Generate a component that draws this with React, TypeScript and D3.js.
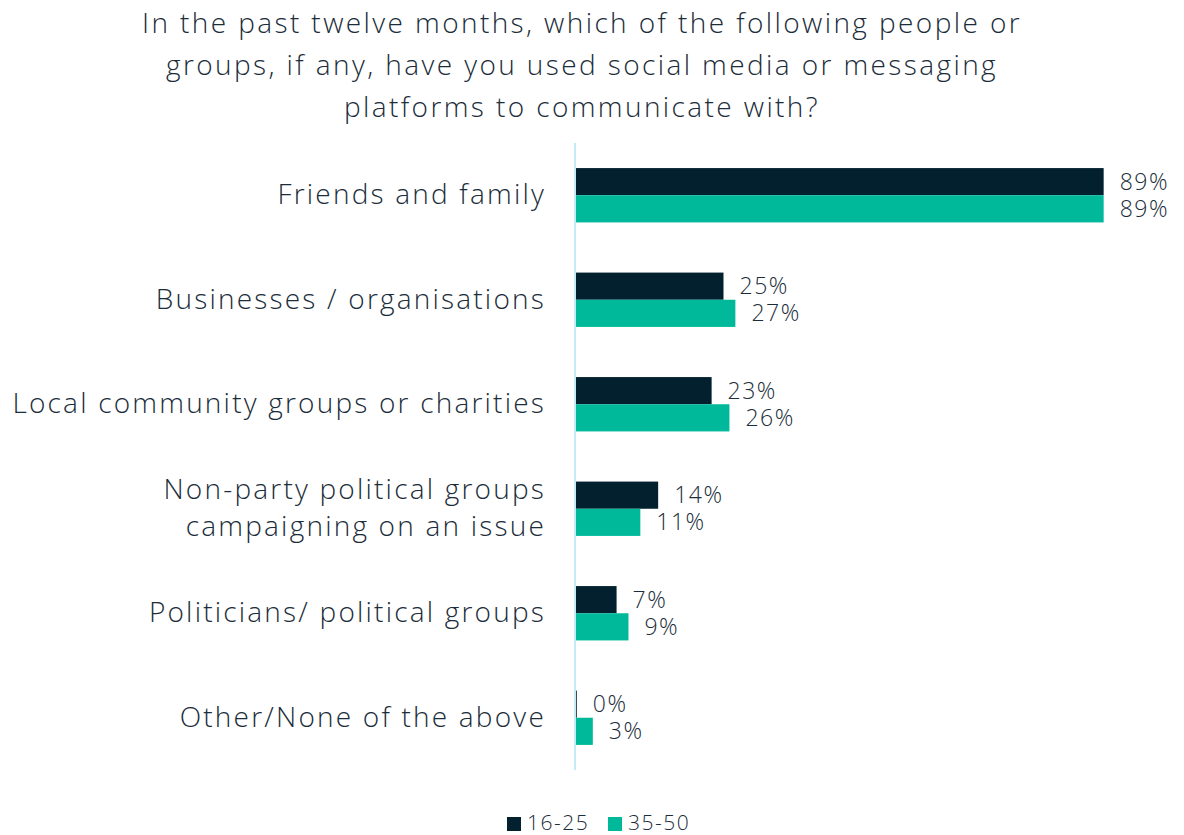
import React from 'react';
import * as d3 from 'd3';

const categories = [
  ['Friends and family'],
  ['Businesses / organisations'],
  ['Local community groups or charities'],
  ['Non-party political groups', 'campaigning on an issue'],
  ['Politicians/ political groups'],
  ['Other/None of the above'],
];
const seriesNames = ['16-25', '35-50'];
const young = [89, 25, 23, 14, 7, 0.3];
const older = [89, 27, 26, 11, 9, 3];
const titleLines = [
  'In the past twelve months, which of the following people or',
  'groups, if any, have you used social media or messaging',
  'platforms to communicate with?',
];

const COLORS = ['#03202e', '#00b99a'];
const TEXT = '#1b2d3a';
const FONT = '"Open Sans", sans-serif';

export default function App() {
  const width = 1184;
  const height = 835;
  const x0 = 575;
  const top = 143;
  const bottom = 770;

  const x = d3.scaleLinear().domain([0, 100]).range([x0, x0 + 594]);
  const y = d3.scaleBand<number>()
    .domain(d3.range(categories.length))
    .range([top, bottom])
    .paddingInner(0.48)
    .paddingOuter(0.24);
  const sub = d3.scaleBand<number>().domain([0, 1]).range([0, y.bandwidth()]);

  const series = [young, older];

  return (
    <svg width={width} height={height} style={{ position: 'absolute', left: 0, top: 0 }}
      fontFamily={FONT} fontWeight={300}>
      <rect width={width} height={height} fill="#fff" />
      {titleLines.map((t, i) => (
        <text key={i} x={582} y={33 + i * 42} textAnchor="middle" fontSize={28} fill={TEXT}
          letterSpacing={2.4}>{t}</text>
      ))}

      {categories.map((lines, i) => {
        const cy = (y(i) as number) + y.bandwidth() / 2;
        return (
          <g key={i}>
            {lines.map((l, j) => (
              <text key={j} x={546} y={cy + 9 + (j - (lines.length - 1) / 2) * 37}
                textAnchor="end" fontSize={28} fill={TEXT} letterSpacing={2.2}>{l}</text>
            ))}
            {series.map((vals, s) => {
              const by = (y(i) as number) + (sub(s) as number);
              return (
                <g key={s}>
                  <rect x={x(0)} y={by} width={x(vals[i]) - x(0)} height={sub.bandwidth()}
                    fill={COLORS[s]} />
                  <text x={x(vals[i]) + 16} y={by + sub.bandwidth() / 2 + 8}
                    fontSize={23} fill={TEXT} letterSpacing={1.5}>{`${Math.round(vals[i])}%`}</text>
                </g>
              );
            })}
          </g>
        );
      })}

      <line x1={x0} x2={x0} y1={top} y2={bottom} stroke="#c5ebf8" strokeWidth={2} />

      {seriesNames.map((n, s) => {
        const lx = s === 0 ? 507 : 608;
        return (
          <g key={n}>
            <rect x={lx} y={817} width={14} height={14} fill={COLORS[s]} />
            <text x={lx + 20} y={830} fontSize={21} fill={TEXT} letterSpacing={1.5}>{n}</text>
          </g>
        );
      })}
    </svg>
  );
}
